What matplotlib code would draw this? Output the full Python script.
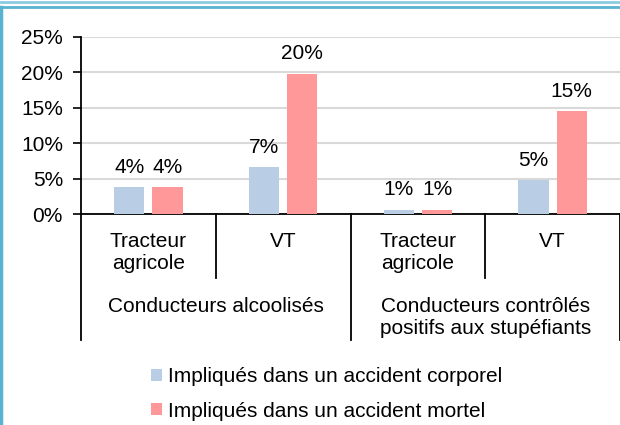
import matplotlib
matplotlib.use("Agg")
import matplotlib.pyplot as plt
from matplotlib.lines import Line2D
from matplotlib.patches import Patch
import numpy as np

plt.rcParams['font.family'] = ['Liberation Sans', 'DejaVu Sans']

groups = ["Conducteurs alcoolisés", "Conducteurs contrôlés\npositifs aux stupéfiants"]
subcats = ["Tracteur\nagricole", "VT", "Tracteur\nagricole", "VT"]
series_names = ["Impliqués dans un accident corporel", "Impliqués dans un accident mortel"]
corporel = [3.8, 6.6, 0.6, 4.8]
mortel = [3.8, 19.8, 0.6, 14.5]
corporel_labels = ["4%", "7%", "1%", "5%"]
mortel_labels = ["4%", "20%", "1%", "15%"]
yticks = [0, 5, 10, 15, 20, 25]

W, H = 620, 425
fig = plt.figure(figsize=(W/100, H/100), dpi=100)

def fx(x):
    return x / W

def fy(y):
    return 1 - y / H

FS = 15
c_blue = "#B9CDE5"
c_red = "#FF9999"

ax = fig.add_axes([fx(81), fy(214), fx(620) - fx(81), fy(37) - fy(214)])
x = np.arange(len(subcats))
off = 0.142
w = 0.225
b1 = ax.bar(x - off, corporel, width=w, color=c_blue, zorder=3)
b2 = ax.bar(x + off, mortel, width=w, color=c_red, zorder=3)
for rect, lab in zip(b1, corporel_labels):
    ax.annotate(lab, (rect.get_x() + rect.get_width()/2, rect.get_height()),
                xytext=(0, 7.5), textcoords="offset points", ha="center", va="bottom", fontsize=FS)
for rect, lab in zip(b2, mortel_labels):
    ax.annotate(lab, (rect.get_x() + rect.get_width()/2, rect.get_height()),
                xytext=(0, 7.5), textcoords="offset points", ha="center", va="bottom", fontsize=FS)

ax.set_xlim(-0.5, len(subcats) - 0.5)
ax.set_ylim(0, 25)
ax.set_yticks(yticks)
ax.set_yticklabels([f"{t}%" for t in yticks], fontsize=FS)
ax.tick_params(axis='y', length=6, width=1.2, pad=7, color='black')
ax.set_xticks([])
ax.yaxis.grid(True, color="#D9D9D9", lw=1.5, zorder=0)
for s in ['top', 'right']:
    ax.spines[s].set_visible(False)
ax.spines['left'].set_linewidth(1.3)
ax.spines['bottom'].set_linewidth(1.3)

tr = ax.get_xaxis_transform()
def ay(y):
    return (fy(y) - fy(214)) / (fy(37) - fy(214))

for xi, lab in zip(x, subcats):
    ax.text(xi, ay(232), lab, transform=tr, ha="center", va="top", fontsize=FS,
            linespacing=1.2, clip_on=False)
group_centers = [0.5, 2.5]
for gc, lab in zip(group_centers, groups):
    ax.text(gc, ay(297), lab, transform=tr, ha="center", va="top", fontsize=FS,
            linespacing=1.2, clip_on=False)
for xd, yend in [(-0.5, 340), (0.5, 278), (1.5, 340), (2.5, 278), (3.5, 340)]:
    ax.add_line(Line2D([xd, xd], [0, ay(yend)], transform=tr, color="black", lw=1.3, clip_on=False))

handles = [Patch(facecolor=c_blue, edgecolor='none'), Patch(facecolor=c_red, edgecolor='none')]
fig.legend(handles, series_names, loc="upper left", bbox_to_anchor=(fx(151), fy(367)),
           frameon=False, fontsize=FS, handlelength=0.55, handleheight=0.5,
           handletextpad=0.25, labelspacing=0.75, borderaxespad=0, borderpad=0)

fig.add_artist(Line2D([0, 1], [fy(1.5), fy(1.5)], color="#8CCBE0", lw=2))
fig.add_artist(Line2D([0, 1], [fy(7), fy(7)], color="#5AB2D1", lw=2))
fig.add_artist(Line2D([fx(1.2), fx(1.2)], [0, fy(7)], color="#5AB2D1", lw=2.5))

fig.savefig("out.png", dpi=100)
